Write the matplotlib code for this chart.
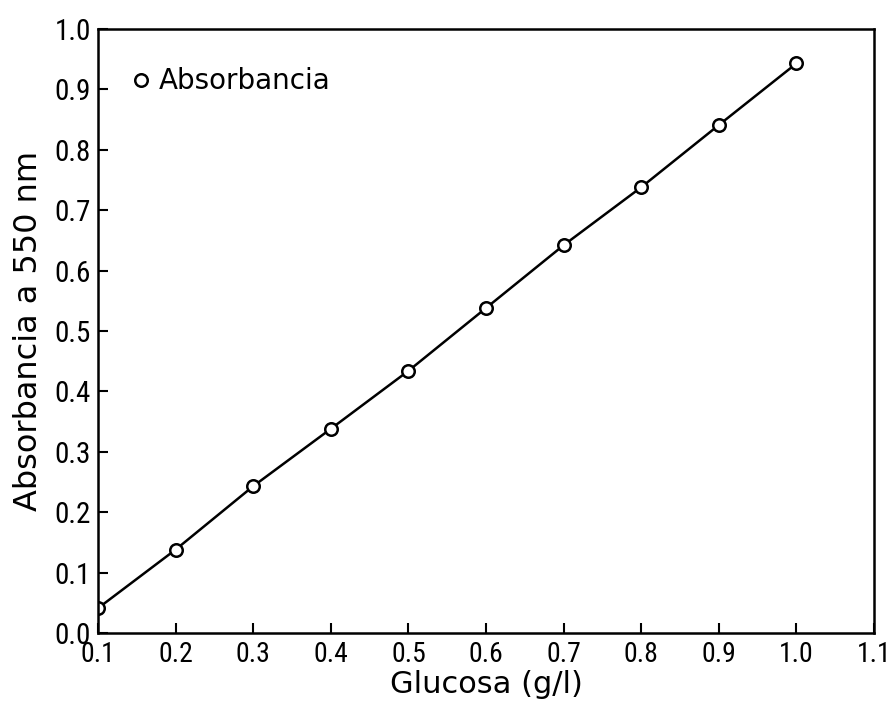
import matplotlib
matplotlib.use("Agg")
import matplotlib.pyplot as plt
from matplotlib.lines import Line2D

glucosa = [0.1, 0.2, 0.3, 0.4, 0.5, 0.6, 0.7, 0.8, 0.9, 1.0]
absorbancia = [0.041, 0.138, 0.243, 0.338, 0.434, 0.538, 0.642, 0.738, 0.841, 0.943]
xticks = [0.1, 0.2, 0.3, 0.4, 0.5, 0.6, 0.7, 0.8, 0.9, 1.0, 1.1]
yticks = [0.0, 0.1, 0.2, 0.3, 0.4, 0.5, 0.6, 0.7, 0.8, 0.9, 1.0]

narrow = ['Roboto Condensed', 'DejaVu Sans Condensed', 'DejaVu Sans']
plt.rcParams['font.family'] = ['DejaVu Sans']

fig = plt.figure(figsize=(8.86, 7.04), dpi=100)
ax = fig.add_axes([0.1106, 0.1009, 0.8759, 0.8579])

ax.plot(glucosa, absorbancia, color='black', linewidth=1.8, marker='o',
        markersize=9, markerfacecolor='white', markeredgecolor='black',
        markeredgewidth=1.8)

ax.set_xlim(0.1, 1.1)
ax.set_ylim(0.0, 1.0)
ax.set_xticks(xticks)
ax.set_yticks(yticks)
ax.set_xticklabels([f"{v:.1f}" for v in xticks], fontfamily=narrow, fontsize=20)
ax.set_yticklabels([f"{v:.1f}" for v in yticks], fontfamily=narrow, fontsize=21)

ax.tick_params(direction='in', length=7, width=1.5, top=False, right=False, pad=5)
ax.tick_params(axis='x', pad=6)
for s in ax.spines.values():
    s.set_linewidth(1.8)

ax.set_xlabel('Glucosa (g/l)', fontsize=22, labelpad=1)
ax.set_ylabel('Absorbancia a 550 nm', fontsize=23, labelpad=8)

handle = Line2D([], [], linestyle='none', marker='o', markersize=9,
                markerfacecolor='white', markeredgecolor='black', markeredgewidth=1.8)
leg = ax.legend([handle], ['Absorbancia'], loc='upper left', bbox_to_anchor=(0.03, 0.955),
                frameon=False, handlelength=0.6, handletextpad=0.35, fontsize=20,
                borderaxespad=0)

fig.savefig('out.png', dpi=100)
